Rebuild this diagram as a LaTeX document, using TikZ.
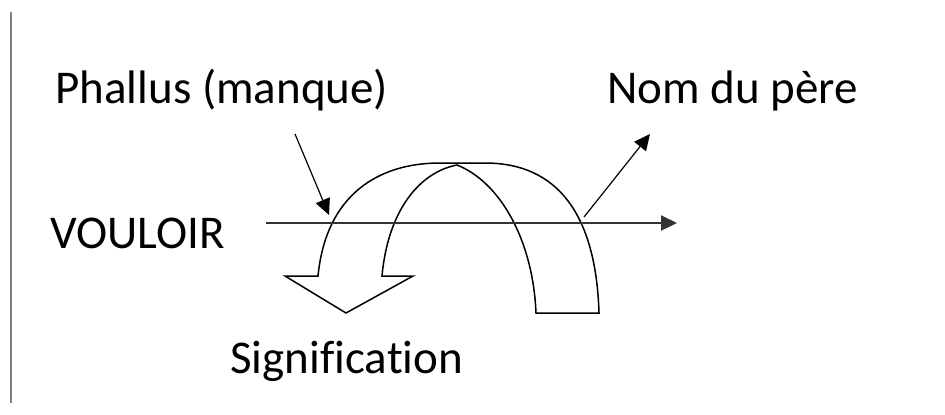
\documentclass[tikz,border=0pt]{standalone}
\usepackage{fontspec}
\setmainfont{Carlito}[Ligatures=NoCommon]
\usetikzlibrary{arrows.meta}

\begin{document}
\begin{tikzpicture}[x=0.5pt, y=-0.5pt,
        testo/.style={anchor=base west, inner sep=0pt, font=\fontsize{23.5}{28}\selectfont},
        freccia/.style={-{Triangle[length=8pt,width=7.5pt]}, line width=0.6pt},
        contorno/.style={line width=0.75pt, line join=miter}]
        \useasboundingbox (0,0) rectangle (945,414);
        % Linea verticale a sinistra
        \draw[gray, line width=1pt] (11,12) -- (11,403);

        % Etichette
        \node[testo] (phallus) at (55,103) {Phallus (manque)};
        \node[testo] (nom) at (607,103) {Nom du p\`ere};
        \node[testo] (vouloir) at (50,248) {VOULOIR};
        \node[testo] (signif) at (230,373) {Signification};

        % Punti delle frecce
        \coordinate (pstart) at (295,134);
        \coordinate (pend) at (329,215);
        \coordinate (nstart) at (584,217);
        \coordinate (nend) at (650,134);
        \coordinate (vstart) at (266,223);
        \coordinate (vend) at (677,223);

        % Freccia curva
        \draw[contorno] (318,276) .. controls (326,195) and (378,163) .. (440,163)
            -- (485,163) .. controls (558,163) and (596,215) .. (599,313)
            -- (536,313) .. controls (533,240) and (500,182) .. (457,165)
            .. controls (420,172) and (388,210) .. (382,276)
            -- (413,276) -- (346,313) -- (285,276) -- cycle;

        % Frecce dritte
        \draw[freccia, line width=1pt, black!80] (vstart) -- (vend);
        \draw[freccia] (pstart) -- (pend);
        \draw[freccia] (nstart) -- (nend);
\end{tikzpicture}
\end{document}
